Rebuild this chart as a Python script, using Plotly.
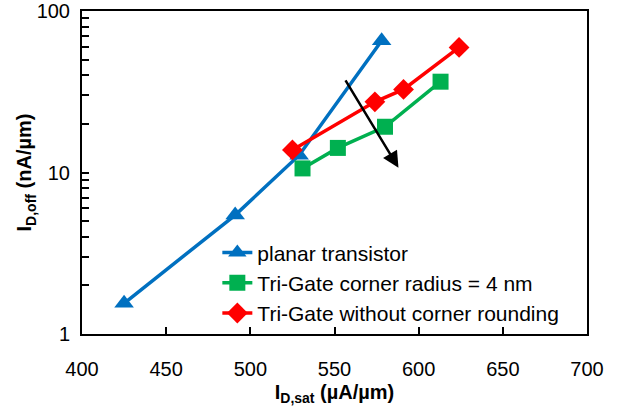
import math
import plotly.graph_objects as go

# Data
planar_x = [425, 491, 529, 578]
planar_y = [1.55, 5.45, 12.8, 65.5]
r4_x = [531, 552, 580, 613]
r4_y = [10.6, 14.2, 19.2, 36.5]
sharp_x = [525, 574, 591, 624]
sharp_y = [13.8, 27.4, 32.7, 59.5]
names = ["planar transistor", "Tri-Gate corner radius = 4 nm", "Tri-Gate without corner rounding"]
colors = ["#0070C0", "#00B050", "#FF0000"]
arrow_tail = (556, 38.0)
arrow_head = (588, 10.7)
x_ticks = [400, 450, 500, 550, 600, 650, 700]
y_major = [1, 10, 100]
x_title = "<b>I<sub>D,sat</sub> (µA/µm)</b>"
y_title = "<b>I<sub>D,off</sub> (nA/µm)</b>"

FONT = "Liberation Sans, Arial, sans-serif"

fig = go.Figure()
fig.add_trace(go.Scatter(x=planar_x, y=planar_y, name=names[0], mode="lines+markers",
                         line=dict(color=colors[0], width=3.5),
                         marker=dict(symbol="triangle-up", size=17, color=colors[0])))
fig.add_trace(go.Scatter(x=r4_x, y=r4_y, name=names[1], mode="lines+markers",
                         line=dict(color=colors[1], width=3.5),
                         marker=dict(symbol="square", size=16, color=colors[1])))
fig.add_trace(go.Scatter(x=sharp_x, y=sharp_y, name=names[2], mode="lines+markers",
                         line=dict(color=colors[2], width=3.5),
                         marker=dict(symbol="diamond", size=16, color=colors[2])))

fig.add_annotation(x=arrow_head[0], y=math.log10(arrow_head[1]),
                   ax=arrow_tail[0], ay=math.log10(arrow_tail[1]),
                   xref="x", yref="y", axref="x", ayref="y",
                   showarrow=True, arrowhead=2, arrowsize=1.3, arrowwidth=2.5,
                   arrowcolor="black", text="")

fig.add_annotation(text=y_title, xref="paper", yref="paper", x=-0.111, y=0.5,
                   xanchor="center", yanchor="middle", textangle=-90, showarrow=False,
                   font=dict(size=20, family=FONT, color="black"))

y_minor = [d * m for d in y_major[:-1] for m in range(2, 10)]

fig.update_layout(
    width=624, height=410,
    margin=dict(l=82, r=37, t=11, b=76),
    paper_bgcolor="white", plot_bgcolor="white",
    font=dict(family=FONT, size=20, color="black"),
    showlegend=True,
    legend=dict(x=0.268, y=0.315, xanchor="left", yanchor="top",
                bgcolor="rgba(0,0,0,0)", borderwidth=0,
                font=dict(size=21, family=FONT), tracegroupgap=0),
    xaxis=dict(range=[400, 700], tickvals=x_ticks, ticks="inside", ticklen=7,
               tickwidth=2, tickcolor="black", automargin=False,
               showline=True, linecolor="black", linewidth=2, mirror=True,
               showgrid=False, zeroline=False, ticklabelstandoff=16,
               tickfont=dict(size=20),
               title=dict(text=x_title, font=dict(size=20), standoff=6)),
    yaxis=dict(type="log", range=[0, 2], tickvals=y_major, ticktext=[str(v) for v in y_major],
               ticks="inside", ticklen=7, tickwidth=2, tickcolor="black", automargin=False,
               minor=dict(tickvals=y_minor, ticks="inside", ticklen=7, tickwidth=2,
                          tickcolor="black", showgrid=False),
               showline=True, linecolor="black", linewidth=2, mirror=True,
               showgrid=False, zeroline=False, ticklabelstandoff=6,
               tickfont=dict(size=20)),
)

fig.write_html("out.html")
